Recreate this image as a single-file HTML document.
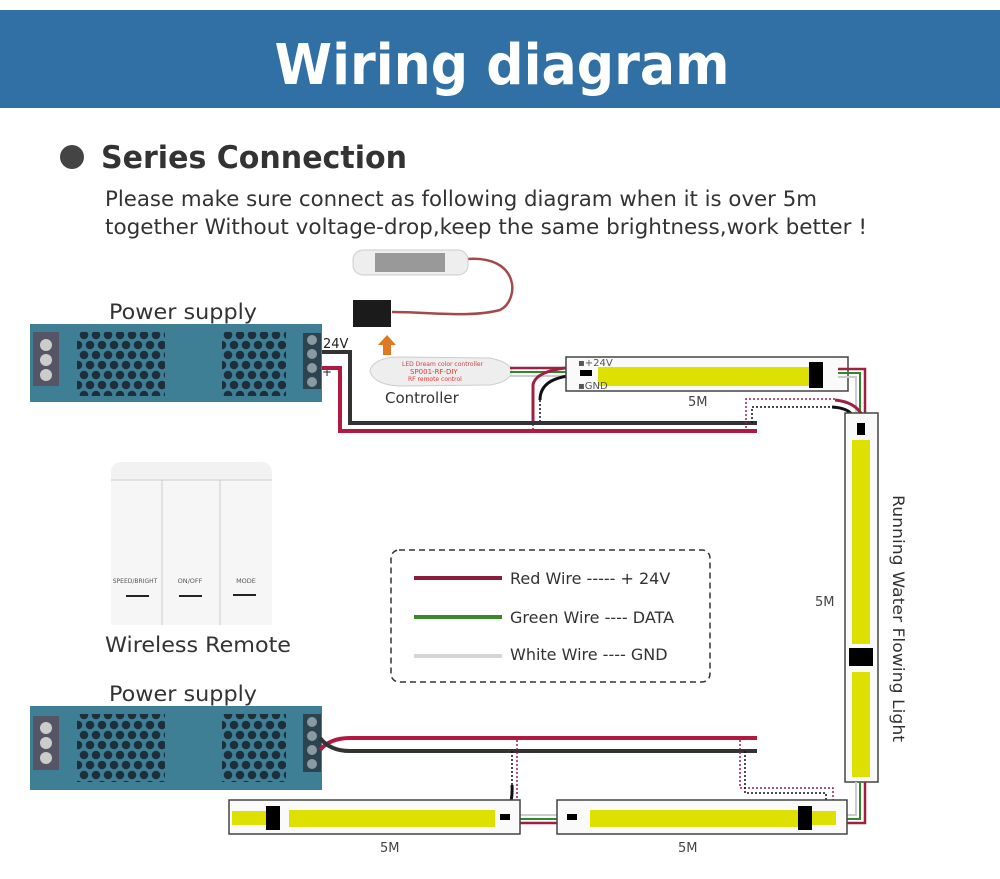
<!DOCTYPE html>
<html><head><meta charset="utf-8"><style>
html,body{margin:0;padding:0;background:#fff;width:1000px;height:879px;overflow:hidden}
svg{display:block}
text{font-family:"DejaVu Sans","Liberation Sans",sans-serif}
</style></head><body>
<svg width="1000" height="879" viewBox="0 0 1000 879" xmlns="http://www.w3.org/2000/svg">
<defs>
<pattern id="hex" x="0" y="0" width="12" height="20" patternUnits="userSpaceOnUse">
<rect width="12" height="20" fill="#3f7f95"/>
<circle cx="6" cy="5" r="4.3" fill="#1d2f3a"/>
<circle cx="0" cy="15" r="4.3" fill="#1d2f3a"/>
<circle cx="12" cy="15" r="4.3" fill="#1d2f3a"/>
</pattern>
</defs>
<rect x="0" y="0" width="1000" height="879" fill="#fff"/>
<rect x="0" y="10" width="1000" height="98" fill="#3070a4"/>
<text x="502" y="84" text-anchor="middle" font-size="56" font-weight="bold" fill="#fff" font-family="Liberation Sans, sans-serif" textLength="455" lengthAdjust="spacingAndGlyphs">Wiring diagram</text>

<circle cx="72" cy="157" r="12" fill="#444"/>
<text x="101" y="168" font-size="31" font-weight="bold" fill="#333" textLength="306" lengthAdjust="spacingAndGlyphs">Series Connection</text>
<text x="105" y="206" font-size="21" fill="#333" textLength="712" lengthAdjust="spacingAndGlyphs">Please make sure connect as following diagram when it is over 5m</text>
<text x="105" y="234" font-size="21" fill="#333" textLength="762" lengthAdjust="spacingAndGlyphs">together Without voltage-drop,keep the same brightness,work better !</text>

<!-- Power supply 1 -->
<text x="109" y="319" font-size="21" fill="#333" textLength="148" lengthAdjust="spacingAndGlyphs">Power supply</text>
<rect x="30" y="324" width="292" height="78" fill="#3f7f95"/>
<rect x="33" y="332" width="26" height="54" fill="#556" />
<circle cx="46" cy="345" r="6" fill="#ccc"/><circle cx="46" cy="360" r="6" fill="#ccc"/><circle cx="46" cy="375" r="6" fill="#ccc"/>
<rect x="77" y="332" width="88" height="64" fill="url(#hex)"/>
<rect x="222" y="332" width="64" height="64" fill="url(#hex)"/>
<rect x="303" y="333" width="18" height="56" fill="#2c4450"/>
<circle cx="312" cy="340" r="5" fill="#8a9aa3"/><circle cx="312" cy="354" r="5" fill="#8a9aa3"/><circle cx="312" cy="368" r="5" fill="#8a9aa3"/><circle cx="312" cy="382" r="5" fill="#8a9aa3"/>
<text x="323" y="348" font-size="13" fill="#222">24V</text>
<text x="322" y="376" font-size="12" fill="#222">+</text>

<!-- Controller -->
<path d="M467,259 C520,255 520,300 500,310 C470,318 430,312 392,312" fill="none" stroke="#a24a4a" stroke-width="2.5"/>
<rect x="353" y="250" width="115" height="25" rx="10" fill="#eee" stroke="#ccc"/>
<rect x="375" y="253" width="70" height="19" fill="#999"/>
<rect x="353" y="300" width="38" height="27" fill="#1b1b1b"/>
<path d="M383,355 h8 v-10 h5 l-9,-10 l-9,10 h5 z" fill="#e07a22"/>
<path d="M370,370 Q375,357 400,357 L490,358 Q510,362 512,371 Q510,382 490,385 L400,386 Q375,385 370,372z" fill="#eee" stroke="#ccc"/>
<text x="402" y="366" font-size="6" fill="#c44">LED Dream color controller</text>
<text x="410" y="374" font-size="7" fill="#e33">SP001-RF-DIY</text>
<text x="408" y="381" font-size="6" fill="#e33">RF remote control</text>
<text x="385" y="403" font-size="15" fill="#333">Controller</text>
<path d="M510,368 H575" stroke="#a02040" stroke-width="2.5"/>
<path d="M510,372 H575" stroke="#2d8a2d" stroke-width="2"/>
<path d="M510,376 H575" stroke="#ccc" stroke-width="2"/>
<path d="M533,423 V385 Q535,372 565,368" fill="none" stroke="#a02040" stroke-width="3"/>
<path d="M540,400 Q540,380 568,376" fill="none" stroke="#111" stroke-width="3"/>
<path d="M533,400 V430" stroke="#a02040" stroke-width="1.5" stroke-dasharray="2,2"/>
<path d="M540,400 V423" stroke="#111" stroke-width="1.5" stroke-dasharray="2,2"/>

<!-- main wires top -->
<path d="M322,352 H350 V423 H757" fill="none" stroke="#333" stroke-width="4"/>
<path d="M322,368 H340 V431 H757" fill="none" stroke="#b01a40" stroke-width="4"/>

<!-- strip 1 -->
<rect x="566" y="357" width="282" height="34" fill="#fafafa" stroke="#444" stroke-width="1.5"/>
<rect x="580" y="370" width="12" height="6" fill="#000"/>
<rect x="598" y="367" width="211" height="19" fill="#dde000"/>
<rect x="809" y="362" width="14" height="26" fill="#000"/>
<text x="578" y="366" font-size="10" fill="#555">▪+24V</text>
<text x="578" y="389" font-size="10" fill="#555">▪GND</text>
<text x="688" y="406" font-size="13" fill="#444">5M</text>
<path d="M838,369 H865 V415" fill="none" stroke="#a02040" stroke-width="2.5"/>
<path d="M838,373 H860 V415" fill="none" stroke="#2d8a2d" stroke-width="2"/>
<path d="M838,377 H856 V415" fill="none" stroke="#ccc" stroke-width="2"/>
<path d="M746,428 V399 H835" fill="none" stroke="#a02040" stroke-width="1.5" stroke-dasharray="2,2"/>
<path d="M752,423 V407 H832" fill="none" stroke="#111" stroke-width="1.5" stroke-dasharray="2,2"/>
<path d="M835,400 Q855,402 862,415" fill="none" stroke="#a02040" stroke-width="3"/>
<path d="M832,407 Q848,408 852,415" fill="none" stroke="#111" stroke-width="3"/>

<!-- vertical strip -->
<rect x="845" y="413" width="33" height="369" fill="#fafafa" stroke="#444" stroke-width="1.5"/>
<rect x="857" y="423" width="8" height="12" fill="#000"/>
<rect x="852" y="440" width="18" height="204" fill="#dde000"/>
<rect x="849" y="648" width="24" height="18" fill="#000"/>
<rect x="852" y="672" width="18" height="105" fill="#dde000"/>
<text x="815" y="606" font-size="13" fill="#444">5M</text>
<text transform="translate(893,495) rotate(90)" font-size="16" fill="#333" textLength="247" lengthAdjust="spacingAndGlyphs">Running Water Flowing Light</text>

<!-- Legend -->
<rect x="391" y="550" width="319" height="132" rx="8" fill="none" stroke="#333" stroke-width="1.5" stroke-dasharray="6,4"/>
<line x1="414" y1="578" x2="502" y2="578" stroke="#8b1d3c" stroke-width="4"/>
<line x1="414" y1="617" x2="502" y2="617" stroke="#3b8a2a" stroke-width="4"/>
<line x1="414" y1="656" x2="502" y2="656" stroke="#d6d6d6" stroke-width="4"/>
<text x="510" y="584" font-size="16" fill="#333">Red Wire ----- + 24V</text>
<text x="510" y="623" font-size="16" fill="#333">Green Wire ---- DATA</text>
<text x="510" y="660" font-size="16" fill="#333">White Wire ---- GND</text>

<!-- Remote -->
<rect x="111" y="462" width="161" height="163" rx="10" fill="#f2f2f2"/>
<rect x="111" y="480" width="161" height="145" fill="#f6f6f6"/>
<line x1="111" y1="480" x2="272" y2="480" stroke="#ccc"/>
<line x1="162" y1="480" x2="162" y2="625" stroke="#ccc"/>
<line x1="220" y1="480" x2="220" y2="625" stroke="#ccc"/>
<text x="135" y="583" font-size="6" fill="#555" text-anchor="middle">SPEED/BRIGHT</text>
<text x="190" y="583" font-size="6.5" fill="#555" text-anchor="middle">ON/OFF</text>
<text x="246" y="583" font-size="6.5" fill="#555" text-anchor="middle">MODE</text>
<line x1="126" y1="596" x2="149" y2="596" stroke="#222" stroke-width="2"/>
<line x1="179" y1="596" x2="202" y2="596" stroke="#222" stroke-width="2"/>
<line x1="233" y1="595" x2="256" y2="595" stroke="#222" stroke-width="2"/>
<text x="105" y="652" font-size="21" fill="#333" textLength="186" lengthAdjust="spacingAndGlyphs">Wireless Remote</text>

<!-- Power supply 2 -->
<text x="109" y="701" font-size="21" fill="#333" textLength="148" lengthAdjust="spacingAndGlyphs">Power supply</text>
<rect x="30" y="706" width="292" height="84" fill="#3f7f95"/>
<rect x="33" y="716" width="26" height="54" fill="#556"/>
<circle cx="46" cy="728" r="6" fill="#ccc"/><circle cx="46" cy="743" r="6" fill="#ccc"/><circle cx="46" cy="758" r="6" fill="#ccc"/>
<rect x="77" y="714" width="88" height="68" fill="url(#hex)"/>
<rect x="222" y="714" width="64" height="68" fill="url(#hex)"/>
<rect x="303" y="714" width="18" height="58" fill="#2c4450"/>
<circle cx="312" cy="722" r="5" fill="#8a9aa3"/><circle cx="312" cy="736" r="5" fill="#8a9aa3"/><circle cx="312" cy="750" r="5" fill="#8a9aa3"/><circle cx="312" cy="764" r="5" fill="#8a9aa3"/>
<path d="M320,750 Q330,738 350,738 H757" fill="none" stroke="#b01a40" stroke-width="4"/>
<path d="M320,738 Q330,751 350,751 H757" fill="none" stroke="#333" stroke-width="4"/>

<!-- bottom wires to strips -->
<path d="M517,740 V800" stroke="#a02040" stroke-width="1.5" stroke-dasharray="2,2"/>
<path d="M512,751 V785" stroke="#111" stroke-width="1.5" stroke-dasharray="2,2"/>
<path d="M512,785 Q513,800 507,816" fill="none" stroke="#111" stroke-width="3"/>
<path d="M517,800 Q516,815 510,823" fill="none" stroke="#a02040" stroke-width="3"/>
<path d="M740,740 V788 H833 V800" fill="none" stroke="#a02040" stroke-width="1.5" stroke-dasharray="2,2"/>
<path d="M745,751 V793 H826 V800" fill="none" stroke="#111" stroke-width="1.5" stroke-dasharray="2,2"/>
<path d="M826,800 Q828,812 820,818" fill="none" stroke="#111" stroke-width="3"/>
<path d="M833,800 Q832,815 828,825" fill="none" stroke="#a02040" stroke-width="3"/>
<path d="M856,782 V815 H838" fill="none" stroke="#ccc" stroke-width="2"/>
<path d="M860,782 V819 H838" fill="none" stroke="#2d8a2d" stroke-width="2"/>
<path d="M865,782 V823 H838" fill="none" stroke="#a02040" stroke-width="2.5"/>
<path d="M510,815 H560" stroke="#ccc" stroke-width="2"/>
<path d="M510,819 H560" stroke="#2d8a2d" stroke-width="2"/>
<path d="M510,823 H560" stroke="#a02040" stroke-width="2.5"/>

<!-- bottom strip A -->
<rect x="229" y="800" width="291" height="34" fill="#fafafa" stroke="#444" stroke-width="1.5"/>
<rect x="232" y="811" width="34" height="14" fill="#dde000"/>
<rect x="266" y="806" width="14" height="24" fill="#000"/>
<rect x="289" y="810" width="206" height="17" fill="#dde000"/>
<rect x="500" y="814" width="10" height="6" fill="#000"/>
<text x="380" y="852" font-size="13" fill="#444">5M</text>
<!-- bottom strip B -->
<rect x="557" y="800" width="290" height="34" fill="#fafafa" stroke="#444" stroke-width="1.5"/>
<rect x="567" y="814" width="10" height="6" fill="#000"/>
<rect x="590" y="810" width="208" height="17" fill="#dde000"/>
<rect x="798" y="806" width="14" height="24" fill="#000"/>
<rect x="812" y="811" width="24" height="14" fill="#dde000"/>
<text x="678" y="852" font-size="13" fill="#444">5M</text>
</svg>
</body></html>
